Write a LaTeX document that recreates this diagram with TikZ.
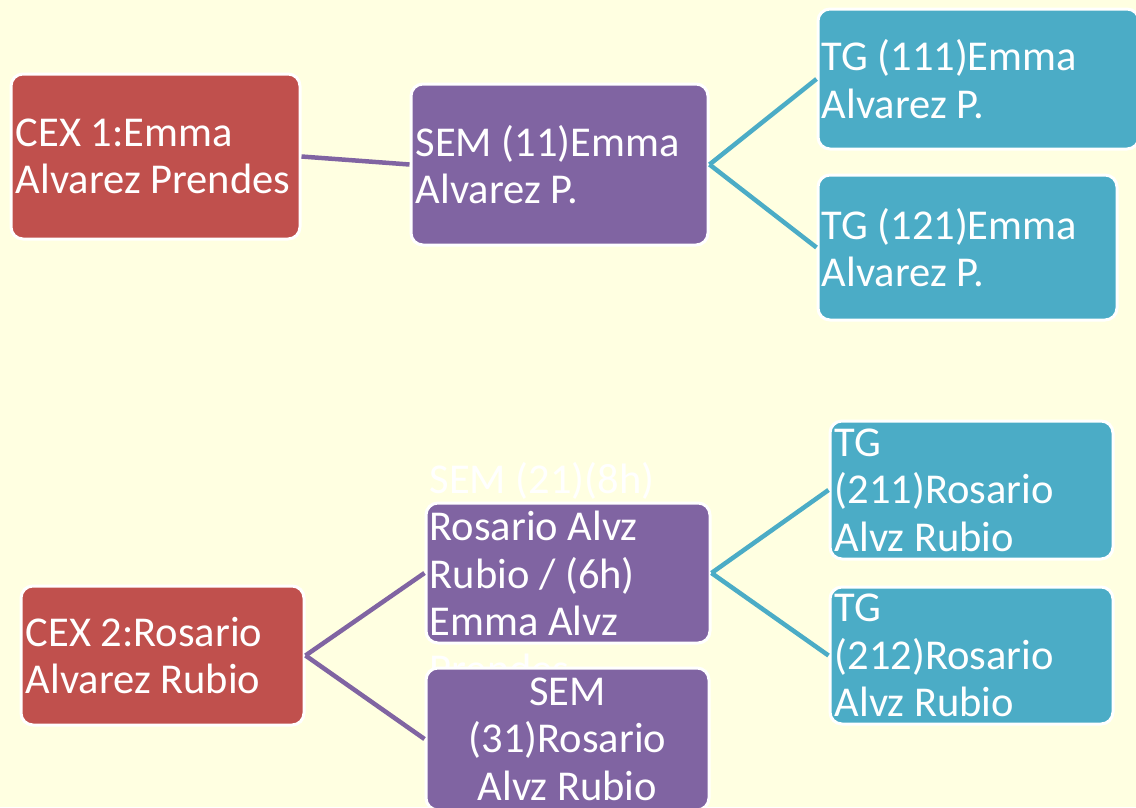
\documentclass[tikz,border=0pt]{standalone}
\usepackage{fontspec}
\setmainfont{Carlito}
\definecolor{bg}{HTML}{FFFFE1}
\definecolor{cred}{HTML}{C0504D}
\definecolor{cpurple}{HTML}{8064A2}
\definecolor{cteal}{HTML}{4BACC6}
\tikzset{
  box/.style={draw=white, line width=3pt, rounded corners=12pt, inner sep=0pt},
  redbox/.style={box, fill=cred},
  purplebox/.style={box, fill=cpurple},
  tealbox/.style={box, fill=cteal},
  txt/.style={text=white, inner sep=0pt, font=\fontsize{42.5}{47.5}\selectfont},
  lpurple/.style={draw=cpurple, line width=4.5pt},
  lteal/.style={draw=cteal, line width=4.5pt},
}
\begin{document}
\begin{tikzpicture}[x=1pt,y=-1pt]
\fill[bg] (0,0) rectangle (1136,807);
\useasboundingbox (0,0) rectangle (1136,807);
\begin{scope}
\clip (0,0) rectangle (1136,807);
% boxes
\node[redbox, minimum width=289pt, minimum height=165pt] (cex1) at (155.5,156.5) {};
\node[purplebox, minimum width=297pt, minimum height=161pt] (sem11) at (559.5,164.5) {};
\node[tealbox, minimum width=321pt, minimum height=140pt] (tg111) at (978.5,79) {};
\node[tealbox, minimum width=299pt, minimum height=145pt] (tg121) at (967.5,247.5) {};
\node[redbox, minimum width=283pt, minimum height=139pt] (cex2) at (162.5,655.5) {};
\node[purplebox, minimum width=284pt, minimum height=140pt] (sem21) at (568,573) {};
\node[tealbox, minimum width=283pt, minimum height=138pt] (tg211) at (971.5,490) {};
\node[tealbox, minimum width=283pt, minimum height=137pt] (tg212) at (971.5,655.5) {};
% connectors
\draw[lpurple] (cex1.east) -- (sem11.west);
\draw[lteal] (sem11.east) -- (tg111.west);
\draw[lteal] (sem11.east) -- (tg121.west);
\draw[lteal] (sem21.east) -- (tg211.west);
\draw[lteal] (sem21.east) -- (tg212.west);
% texts
\node[txt, anchor=west, align=left] (t1) at ([xshift=6pt]cex1.west) {CEX 1:Emma\\Alvarez Prendes};
\node[txt, anchor=west, align=left] (t2) at ([xshift=6pt]sem11.west) {SEM (11)Emma\\Alvarez P.};
\node[txt, anchor=west, align=left] (t3) at ([xshift=5pt]tg111.west) {TG (111)Emma\\Alvarez P.};
\node[txt, anchor=west, align=left] (t4) at ([xshift=5pt]tg121.west) {TG (121)Emma\\Alvarez P.};
\node[txt, anchor=west, align=left] (t5) at ([xshift=6pt]cex2.west) {CEX 2:Rosario\\Alvarez Rubio};
\node[txt, anchor=west, align=left] (t6) at ([xshift=5pt]sem21.west) {SEM (21)(8h)\\Rosario Alvz\\Rubio / (6h)\\Emma Alvz\\Prendes};
\node[txt, anchor=west, align=left] (t7) at ([xshift=6pt]tg211.west) {TG\\(211)Rosario\\Alvz Rubio};
\node[txt, anchor=west, align=left] (t8) at ([xshift=6pt]tg212.west) {TG\\(212)Rosario\\Alvz Rubio};
% bottom SEM box drawn last so it covers the overflowing text
\node[purplebox, minimum width=283pt, minimum height=142pt] (sem31) at (567.5,739) {};
\node[txt, align=center] (t9) at (sem31.center) {SEM\\(31)Rosario\\Alvz Rubio};
\draw[lpurple] (cex2.east) -- (sem21.west);
\draw[lpurple] (cex2.east) -- (sem31.west);
\end{scope}
\end{tikzpicture}
\end{document}
